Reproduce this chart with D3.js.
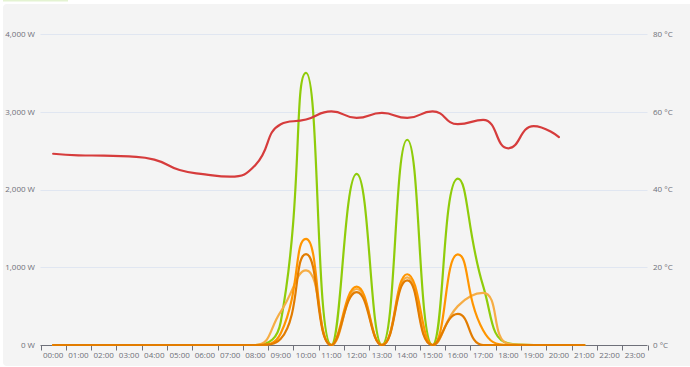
<!DOCTYPE html>
<html><head><meta charset="utf-8">
<script src="https://cdn.jsdelivr.net/npm/d3@7/dist/d3.min.js"></script>
<style>
html,body{margin:0;padding:0;background:#fff;}
svg{display:block;font-family:"Open Sans","Noto Sans",sans-serif;}
</style></head>
<body><svg id="c" width="690" height="367"></svg>
<script>
const hours = ["00:00","01:00","02:00","03:00","04:00","05:00","06:00","07:00","08:00","09:00","10:00","11:00","12:00","13:00","14:00","15:00","16:00","17:00","18:00","19:00","20:00","21:00","22:00","23:00"];
const powerTicks = [0,1000,2000,3000,4000];
const tempTicks = [0,20,40,60,80];
// power series (W), 00:00 .. 21:00
const greenPower  = [0,0,0,0,0,0,0,0,0,300,3500,0,2200,0,2640,0,2140,760,20,0,0,0];
const lightPower  = [0,0,0,0,0,0,0,0,0,430,960,0,720,0,870,0,500,670,15,0,0,0];
const orangePower = [0,0,0,0,0,0,0,0,0,150,1365,0,750,0,910,0,1165,190,0,0,0,0];
const darkPower   = [0,0,0,0,0,0,0,0,0,80,1170,0,680,0,830,0,400,0,0,0,0,0];
// temperature (°C), 00:00 .. 20:00
const temperature = [49.2,48.8,48.7,48.5,47.7,45.0,43.9,43.3,46.3,56.8,58.0,60.1,58.4,59.7,58.4,60.1,56.8,57.9,50.6,56.3,53.5];

const svg = d3.select("#c");
svg.append("rect").attr("x",3).attr("y",0).attr("width",65).attr("height",1.5).attr("fill","#e4f3d2");
svg.append("rect").attr("x",3).attr("y",4).attr("width",700).attr("height",362).attr("rx",4).attr("fill","#f4f4f4");

const x = d3.scaleBand().domain(hours).range([40.5,647.5]);
const cx = h => x(h) + x.bandwidth()/2;
const y = d3.scaleLinear().domain([0,4000]).range([345,34]);
const y2 = d3.scaleLinear().domain([0,80]).range([345,34]);

// grid
svg.append("g").selectAll("line").data(powerTicks.slice(1)).join("line")
  .attr("x1",40.5).attr("x2",647.5)
  .attr("y1",d=>Math.round(y(d))+0.5).attr("y2",d=>Math.round(y(d))+0.5)
  .attr("stroke","#e0e6f1").attr("stroke-width",1);

// y labels
svg.append("g").selectAll("text").data(powerTicks).join("text")
  .attr("x",35).attr("y",d=>y(d)).attr("dy","0.35em").attr("text-anchor","end")
  .attr("font-size",8).attr("fill","#6e7079")
  .text(d=>d3.format(",")(d)+" W");
svg.append("g").selectAll("text").data(tempTicks).join("text")
  .attr("x",653).attr("y",d=>y2(d)).attr("dy","0.35em").attr("text-anchor","start")
  .attr("font-size",8).attr("fill","#6e7079")
  .text(d=>d+" °C");

// x axis
const xa = svg.append("g").attr("transform","translate(0,345.5)");
xa.append("line").attr("x1",40.5).attr("x2",647.5).attr("stroke","#6e7079");
const bounds = hours.map(h=>x(h)).concat([x.range()[1]]);
xa.selectAll("line.t").data(bounds).join("line").attr("class","t")
  .attr("x1",d=>Math.round(d)+0.5).attr("x2",d=>Math.round(d)+0.5).attr("y1",0).attr("y2",5)
  .attr("stroke","#6e7079");
xa.selectAll("text").data(hours).join("text")
  .attr("x",d=>cx(d)).attr("y",12).attr("text-anchor","middle")
  .attr("font-size",8).attr("fill","#6e7079").text(d=>d);

// ECharts-like smooth path
function smoothPath(pts, smooth){
  const p = d3.path();
  let prevX, prevY, cpx0, cpy0, cpx1, cpy1;
  const n = pts.length;
  for(let i=0;i<n;i++){
    const [xx,yy] = pts[i];
    if(i===0){ p.moveTo(xx,yy); cpx0=xx; cpy0=yy; }
    else{
      let nextCpx0, nextCpy0;
      if(i===n-1){ cpx1=xx; cpy1=yy; }
      else{
        const [nx,ny] = pts[i+1];
        let vx = nx-prevX, vy = ny-prevY;
        const dx0=xx-prevX, dx1=nx-xx, dy0=yy-prevY, dy1=ny-yy;
        const l0=Math.sqrt(dx0*dx0+dy0*dy0), l1=Math.sqrt(dx1*dx1+dy1*dy1);
        const r = l1/(l1+l0);
        nextCpx0 = xx+vx*smooth*r; nextCpy0 = yy+vy*smooth*r;
        nextCpx0 = Math.min(nextCpx0, Math.max(nx,xx)); nextCpy0 = Math.min(nextCpy0, Math.max(ny,yy));
        nextCpx0 = Math.max(nextCpx0, Math.min(nx,xx)); nextCpy0 = Math.max(nextCpy0, Math.min(ny,yy));
        vx = nextCpx0-xx; vy = nextCpy0-yy;
        cpx1 = xx - vx*l0/l1; cpy1 = yy - vy*l0/l1;
        cpx1 = Math.min(cpx1, Math.max(prevX,xx)); cpy1 = Math.min(cpy1, Math.max(prevY,yy));
        cpx1 = Math.max(cpx1, Math.min(prevX,xx)); cpy1 = Math.max(cpy1, Math.min(prevY,yy));
        vx = xx-cpx1; vy = yy-cpy1;
        nextCpx0 = xx + vx*l1/l0; nextCpy0 = yy + vy*l1/l0;
      }
      p.bezierCurveTo(cpx0,cpy0,cpx1,cpy1,xx,yy);
      cpx0=nextCpx0; cpy0=nextCpy0;
    }
    prevX=xx; prevY=yy;
  }
  return p.toString();
}

const series = [
  {data:greenPower, color:"#8fcc0a", sc:y},
  {data:lightPower, color:"#f6ad45", sc:y},
  {data:orangePower, color:"#ff9500", sc:y},
  {data:darkPower, color:"#e27c00", sc:y},
  {data:temperature, color:"#d63c3c", sc:y2}
];
series.forEach(s=>{
  const pts = s.data.map((v,i)=>[cx(hours[i]), s.sc(v)]);
  svg.append("path").attr("d",smoothPath(pts,0.5)).attr("fill","none")
    .attr("stroke",s.color).attr("stroke-width",2.2).attr("stroke-linejoin","round").attr("stroke-linecap","round");
});
</script></body></html>
